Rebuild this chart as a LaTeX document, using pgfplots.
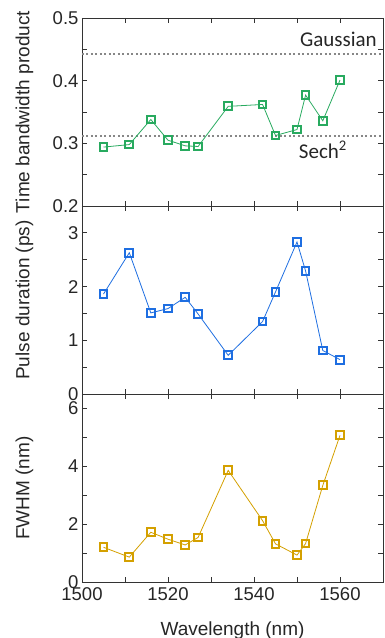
\documentclass[border=0pt]{standalone}
\usepackage{fontspec}
\setmainfont{Liberation Sans}
\newfontfamily\carlito{Carlito}
\usepackage{pgfplots}
\pgfplotsset{compat=1.18}
\definecolor{cgreen}{RGB}{40,170,95}
\definecolor{cblue}{RGB}{30,110,225}
\definecolor{corange}{RGB}{212,160,0}
\definecolor{cgray}{RGB}{135,135,135}
\pgfplotsset{
 panel/.style={
  scale only axis, width=301pt, height=188pt,
  xmin=1500, xmax=1570,
  xtick={1500,1520,1540,1560}, minor xtick={1510,1530,1550,1570},
  tick label style={font=\fontsize{18.5}{22}\selectfont, text=black!85},
  xticklabel style={/pgf/number format/.cd, set thousands separator={}, /tikz/.cd, inner ysep=0pt, yshift=-5.5pt},
  yticklabel style={inner ysep=0pt},
  tick align=inside, major tick length=5pt, minor tick length=5pt,
  every tick/.style={black!80, line width=0.8pt},
  axis line style={line width=0.8pt, black!80},
  label style={font=\fontsize{19}{22}\selectfont, text=black!85},
  /pgf/number format/assume math mode=true,
  ylabel style={at={(axis description cs:-0.175,0.5)}, anchor=base},
  clip=false,
 },
 ser/.style={color=#1, line width=0.8pt, mark=square, mark size=3.9pt,
   mark options={line width=2pt, fill=white, solid}},
}
\begin{document}
\begin{tikzpicture}
\useasboundingbox (-82pt,-56pt) rectangle (303pt,582pt);
% top panel
\begin{axis}[panel, at={(0,376pt)},
  ymin=0.2, ymax=0.5, ytick={0.2,0.3,0.4,0.5}, minor ytick={0.25,0.35,0.45},
  yticklabel style={/pgf/number format/.cd, fixed, fixed zerofill, precision=1},
  xticklabels={},
  ylabel={Time bandwidth product}]
\addplot[cgray, line width=2pt, dash pattern=on 2pt off 2.5pt] coordinates {(1500,0.443) (1570,0.443)};
\addplot[cgray, line width=2pt, dash pattern=on 2pt off 2.5pt] coordinates {(1500,0.312) (1570,0.312)};
\addplot[ser=cgreen] coordinates {
(1505,0.294) (1511,0.298) (1516,0.338) (1520,0.305) (1524,0.296) (1527,0.295) (1534,0.359)
(1542,0.362) (1545,0.3125) (1550,0.322) (1552,0.377) (1556,0.336) (1560,0.401)};
\node[font=\carlito\fontsize{21}{24}\selectfont, text=black!85, anchor=east, inner sep=0pt] at (axis cs:1568.6,0.466) {Gaussian};
\node[font=\carlito\fontsize{21}{24}\selectfont, text=black!85, anchor=west, inner sep=0pt] at (axis cs:1550.4,0.29) {Sech\textsuperscript{2}};
\end{axis}
% middle panel
\begin{axis}[panel, at={(0,188pt)},
  ymin=0, ymax=3.5, ytick={0,1,2,3}, minor ytick={0.5,1.5,2.5,3.5},
  xticklabels={},
  ylabel={Pulse duration (ps)}]
\addplot[ser=cblue] coordinates {
(1505,1.86) (1511,2.63) (1516,1.51) (1520,1.59) (1524,1.80) (1527,1.49) (1534,0.72)
(1542,1.35) (1545,1.90) (1550,2.83) (1552,2.29) (1556,0.81) (1560,0.64)};
\end{axis}
% bottom panel
\begin{axis}[panel, at={(0,0)},
  ymin=0, ymax=6.5, ytick={0,2,4,6}, minor ytick={1,3,5},
  ylabel={FWHM (nm)},
  xlabel={Wavelength (nm)},
  xlabel style={at={(axis description cs:0.5,-0.282)}, anchor=base}]
\addplot[ser=corange] coordinates {
(1505,1.20) (1511,0.86) (1516,1.72) (1520,1.48) (1524,1.28) (1527,1.54) (1534,3.86)
(1542,2.12) (1545,1.32) (1550,0.93) (1552,1.33) (1556,3.34) (1560,5.07)};
\end{axis}
\end{tikzpicture}
\end{document}
